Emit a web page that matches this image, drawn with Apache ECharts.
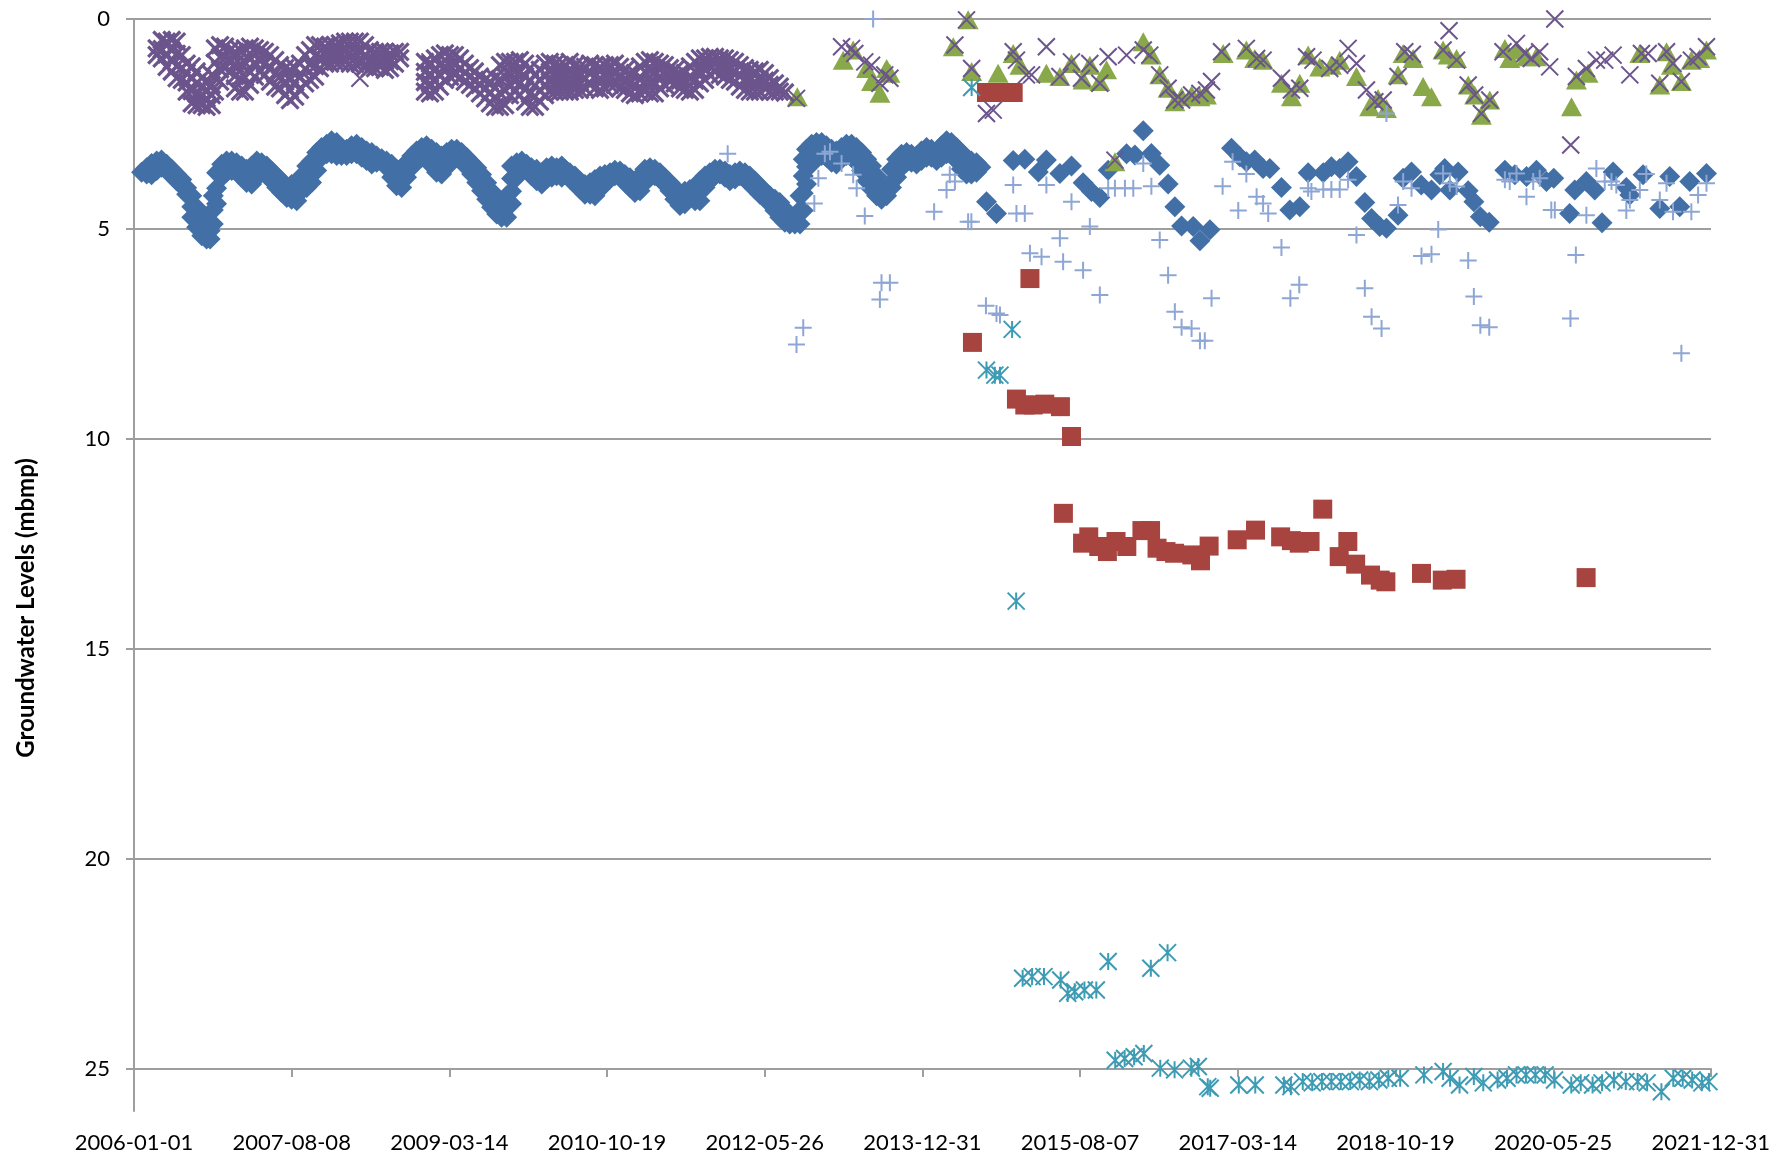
<!DOCTYPE html>
<html><head><meta charset="utf-8">
<script src="https://cdn.jsdelivr.net/npm/echarts@6/dist/echarts.min.js"></script>
<style>html,body{margin:0;padding:0;background:#fff}#c{width:1773px;height:1158px}</style>
</head><body><div id="c"></div>
<script>
// x values: days since 2006-01-01 ; y values: groundwater level (m below measuring point)
const axisStartDate = '2006-01-01';
const axisEndDay = 5843;          // 2021-12-31
const axisStepDays = 584.3;       // 10 equal steps
const yTickValues = [0, 5, 10, 15, 20, 25];
const yTitle = 'Groundwater Levels (mbmp)';

// blue diamonds, dense record: [day, readings seen at that date (band top .. bottom)]
const blueDense = [[28,3.65],[47,3.54,3.69],[65,3.44,3.71],[84,3.38,3.61],[102,3.36,3.53],[121,3.46,3.61],[140,3.58,3.73],[158,3.70,3.85],[177,3.82,3.97],[195,4.02,4.17],[214,4.21,4.47,4.72],[232,4.49,4.73,4.96],[251,4.69,4.93,5.16],[269,5.01,5.24],[282,4.85,5.04,5.24],[294,4.21,4.55,4.88],[306,3.66,4.03,4.40],[325,3.46,3.77],[343,3.38,3.65],[362,3.38,3.61],[380,3.42,3.65],[399,3.50,3.77],[417,3.58,3.89],[436,3.50,3.93],[455,3.38,3.77],[473,3.42,3.65],[492,3.50,3.73],[510,3.62,3.85],[529,3.74,4.01],[547,3.86,4.13],[566,3.98,4.25],[584,3.94,4.29],[603,3.90,4.33],[621,3.74,4.09],[640,3.50,3.76,4.01],[658,3.38,3.64,3.89],[677,3.18,3.61],[695,3.06,3.29],[714,2.98,3.21],[732,2.90,3.21],[751,2.94,3.25],[769,3.06,3.25],[788,3.10,3.25],[806,3.02,3.21],[825,2.98,3.21],[844,3.06,3.29],[862,3.14,3.37],[881,3.18,3.45],[899,3.26,3.41],[918,3.33],[936,3.38,3.53],[955,3.46,3.77],[973,3.58,3.97],[992,3.54,4.01],[1010,3.42,3.77],[1029,3.26,3.53],[1047,3.14,3.37],[1066,3.06,3.29],[1084,3.02,3.29],[1103,3.10,3.49],[1121,3.18,3.65],[1140,3.26,3.69],[1159,3.18,3.53],[1177,3.10,3.33],[1196,3.10,3.29],[1214,3.18,3.37],[1233,3.30,3.53],[1251,3.42,3.69],[1270,3.54,3.89],[1288,3.70,4.09],[1307,3.90,4.29],[1325,4.10,4.48],[1344,4.33,4.64],[1362,4.53,4.72],[1381,4.21,4.47,4.72],[1399,3.50,3.80,4.10,4.40],[1418,3.42,3.77],[1437,3.38,3.57],[1455,3.46,3.61],[1473,3.54,3.73],[1492,3.58,3.85],[1511,3.66,3.93],[1529,3.54,3.81],[1548,3.50,3.77],[1566,3.54,3.73],[1585,3.50,3.77],[1597,3.58,3.69],[1615,3.66,3.81],[1634,3.74,3.93],[1652,3.86,4.05],[1671,3.94,4.17],[1690,3.90,4.17],[1708,3.82,4.21],[1727,3.74,4.05],[1745,3.70,3.93],[1764,3.66,3.81],[1782,3.60,3.73],[1801,3.62,3.77],[1819,3.70,3.89],[1838,3.78,4.01],[1856,3.86,4.13],[1875,3.74,4.09],[1893,3.58,3.89],[1912,3.54,3.77],[1930,3.58,3.73],[1949,3.66,3.81],[1967,3.78,3.93],[1986,3.90,4.09],[2004,4.02,4.29],[2023,4.17,4.44],[2041,4.10,4.40],[2060,4.06,4.21],[2079,4.10,4.33],[2097,3.86,4.10,4.33],[2116,3.74,4.01],[2134,3.66,3.85],[2153,3.58,3.73],[2171,3.58,3.69],[2190,3.62,3.77],[2208,3.70,3.85],[2227,3.66,3.81],[2245,3.62,3.73],[2264,3.66,3.81],[2282,3.74,3.93],[2301,3.86,4.05],[2319,3.98,4.17],[2338,4.10,4.25],[2356,4.21,4.40],[2375,4.29,4.56],[2393,4.37,4.72],[2412,4.53,4.84],[2430,4.69,4.88],[2449,4.88],[2468,4.21,4.55,4.88],[2480,3.34,3.74,4.15,4.56],[2492,3.10,3.52,3.93],[2511,2.98,3.22,3.45],[2529,2.94,3.29],[2548,2.94,3.25],[2566,3.02,3.29],[2585,3.10,3.41],[2603,3.14,3.45],[2622,3.06,3.33],[2640,2.98,3.25],[2659,2.98,3.29],[2677,3.06,3.41],[2696,3.18,3.61],[2715,3.34,3.60,3.85],[2733,3.50,3.77,4.05],[2752,3.74,3.97,4.21],[2770,4.06,4.29],[2789,3.98,4.21],[2807,3.58,4.01],[2826,3.34,3.77],[2844,3.22,3.53],[2863,3.18,3.41],[2881,3.22,3.41],[2900,3.26,3.45],[2918,3.14,3.37],[2937,3.06,3.29],[2955,3.10,3.29],[2974,3.18,3.37],[2992,3.02,3.29],[3011,2.90,3.21],[3029,2.94,3.21],[3048,3.06,3.37],[3066,3.18,3.57],[3085,3.30,3.69],[3103,3.38,3.69],[3122,3.42,3.65],[3138,3.53]];
// blue diamonds, sparse record
const blueSparse = [[3159,4.35],[3196,4.63],[3258,3.37],[3301,3.34],[3351,3.64],[3381,3.36],[3431,3.68],[3474,3.50],[3517,3.90],[3548,4.11],[3579,4.25],[3610,3.60],[3678,3.21],[3709,3.24],[3740,2.66],[3770,3.20],[3801,3.48],[3832,3.93],[3857,4.47],[3882,4.93],[3925,4.94],[3950,5.28],[3987,5.02],[4067,3.08],[4098,3.28],[4122,3.40],[4153,3.36],[4184,3.56],[4209,3.56],[4252,4.01],[4283,4.55],[4320,4.47],[4351,3.66],[4407,3.66],[4437,3.52],[4468,3.56],[4499,3.40],[4530,3.75],[4561,4.37],[4586,4.75],[4616,4.94],[4641,4.98],[4684,4.67],[4703,3.79],[4734,3.64],[4770,3.95],[4808,4.07],[4839,3.71],[4857,3.56],[4876,4.07],[4907,3.64],[4944,4.09],[4965,4.35],[4989,4.71],[5022,4.84],[5080,3.60],[5117,3.71],[5160,3.75],[5197,3.60],[5234,3.87],[5261,3.79],[5320,4.63],[5339,4.07],[5382,3.87],[5413,4.07],[5440,4.85],[5481,3.64],[5530,4.01],[5543,4.19],[5592,3.71],[5654,4.51],[5691,3.75],[5728,4.47],[5765,3.87],[5827,3.68]];
// red squares
const redSquares = [[3107,7.70],[3159,1.75],[3196,1.75],[3233,1.75],[3258,1.75],[3270,9.05],[3301,9.19],[3320,6.18],[3332,9.19],[3375,9.17],[3433,9.23],[3474,9.94],[3444,11.77],[3515,12.48],[3538,12.33],[3575,12.56],[3607,12.68],[3639,12.44],[3679,12.56],[3735,12.18],[3767,12.18],[3791,12.60],[3824,12.68],[3856,12.72],[3920,12.76],[3952,12.90],[3984,12.55],[4088,12.40],[4156,12.17],[4249,12.33],[4289,12.42],[4318,12.48],[4358,12.44],[4405,11.67],[4466,12.80],[4498,12.44],[4527,12.98],[4582,13.24],[4618,13.36],[4639,13.40],[4771,13.20],[4848,13.36],[4899,13.34],[5381,13.30]];
// green triangles
const greenTriangles = [[2458,1.85],[2628,0.98],[2665,0.74],[2715,1.18],[2733,1.49],[2764,1.77],[2789,1.18],[2801,1.29],[3036,0.66],[3091,0.02],[3104,1.25],[3202,1.29],[3258,0.82],[3283,1.10],[3381,1.29],[3431,1.37],[3474,1.06],[3517,1.45],[3542,1.10],[3579,1.49],[3604,1.21],[3635,3.40],[3740,0.54],[3770,0.86],[3801,1.33],[3832,1.65],[3857,1.97],[3882,1.85],[3919,1.81],[3950,1.85],[3974,1.81],[4036,0.82],[4122,0.74],[4153,0.94],[4184,0.98],[4252,1.53],[4289,1.85],[4320,1.53],[4351,0.86],[4394,1.14],[4437,1.10],[4468,0.98],[4530,1.37],[4579,2.09],[4610,1.89],[4641,2.13],[4684,1.33],[4703,0.82],[4740,0.94],[4777,1.61],[4808,1.85],[4851,0.74],[4870,0.86],[4901,0.94],[4944,1.57],[4968,1.81],[4993,2.29],[5024,1.93],[5080,0.70],[5098,0.94],[5123,0.74],[5160,0.90],[5197,0.90],[5327,2.09],[5345,1.45],[5388,1.29],[5580,0.82],[5654,1.57],[5679,0.78],[5697,1.10],[5734,1.49],[5771,0.98],[5802,0.94],[5827,0.74]];
// purple crosses, dense record: [day, readings seen at that date (band top .. bottom)]
const purpleDense = [[84,0.70,0.86],[103,0.50,0.72,0.94],[121,0.54,0.84,1.14],[140,0.50,0.75,1.00,1.25],[158,0.54,0.83,1.12,1.41],[177,0.86,1.16,1.45],[195,1.06,1.28,1.51,1.73],[214,1.13,1.42,1.72,2.01],[232,1.25,1.52,1.78,2.05],[251,1.41,1.62,1.84,2.05],[269,1.49,1.69,1.89,2.09],[288,1.33,1.57,1.81,2.05],[300,0.70,1.04,1.39,1.73],[319,0.62,0.91,1.20,1.49],[337,0.66,0.92,1.17],[356,0.74,1.00,1.25],[374,0.78,1.07,1.36,1.65],[393,0.74,1.07,1.40,1.73],[411,0.70,1.04,1.39,1.73],[430,0.66,0.96,1.27,1.57],[448,0.70,1.04,1.37],[467,0.74,1.00,1.25],[485,0.78,1.06,1.33],[504,0.86,1.17,1.49],[523,0.98,1.30,1.61],[541,1.10,1.37,1.65],[560,1.17,1.49,1.81],[578,1.21,1.45,1.69,1.93],[597,1.17,1.51,1.85],[615,1.06,1.37,1.69],[634,0.86,1.19,1.53],[652,0.74,1.09,1.45],[671,0.62,0.87,1.12,1.37],[689,0.62,0.90,1.17],[708,0.66,0.86,1.06],[726,0.62,0.84,1.06],[745,0.62,0.82,1.02],[763,0.58,0.80,1.02],[782,0.54,0.78,1.02],[800,0.54,0.80,1.06],[819,0.54,0.80,1.06],[837,0.54,0.80,1.06],[856,0.62,0.88,1.14],[874,0.74,0.96,1.17],[893,0.78,0.98,1.17],[912,0.78,0.96,1.14],[930,0.78,1.00,1.21],[949,0.82,1.00,1.17],[967,0.78,1.06],[986,0.78,0.94],[1078,1.02,1.26,1.50,1.73],[1097,1.06,1.30,1.53,1.77],[1115,0.94,1.20,1.47,1.73],[1134,0.86,1.11,1.36,1.61],[1152,0.82,1.13,1.45],[1171,0.86,1.11,1.37],[1189,0.86,1.10,1.33],[1208,0.94,1.17,1.41],[1226,1.06,1.27,1.49],[1245,1.17,1.37,1.57],[1263,1.25,1.45,1.65],[1282,1.37,1.57,1.77],[1301,1.45,1.67,1.89],[1319,1.49,1.75,2.01],[1338,1.41,1.64,1.86,2.09],[1356,1.10,1.43,1.76,2.09],[1375,1.02,1.36,1.71,2.05],[1393,1.02,1.28,1.55,1.81],[1412,1.02,1.26,1.49,1.73],[1430,0.98,1.26,1.53,1.81],[1449,1.06,1.36,1.67,1.97],[1467,1.17,1.48,1.78,2.09],[1486,1.33,1.58,1.84,2.09],[1504,1.21,1.46,1.72,1.97],[1523,1.06,1.31,1.56,1.81],[1541,1.02,1.26,1.49,1.73],[1560,1.06,1.28,1.51,1.73],[1578,1.10,1.31,1.52,1.73],[1597,1.10,1.31,1.52,1.73],[1615,1.02,1.26,1.49,1.73],[1634,1.10,1.30,1.49,1.69],[1652,1.14,1.32,1.51,1.69],[1671,1.14,1.40,1.65],[1690,1.06,1.31,1.57],[1708,1.10,1.37,1.65],[1727,1.14,1.41,1.69],[1745,1.10,1.37,1.65],[1764,1.10,1.33,1.57],[1782,1.06,1.31,1.57],[1801,1.14,1.40,1.65],[1819,1.21,1.45,1.69],[1838,1.29,1.53,1.77],[1856,1.29,1.55,1.81],[1875,1.13,1.45,1.77],[1893,1.02,1.26,1.49,1.73],[1912,0.98,1.24,1.51,1.77],[1930,1.02,1.27,1.52,1.77],[1949,1.06,1.36,1.65],[1967,1.10,1.33,1.57],[1986,1.17,1.33,1.49],[2004,1.21,1.37,1.53],[2023,1.29,1.47,1.65],[2041,1.29,1.49,1.69],[2060,1.13,1.43,1.73],[2079,1.02,1.24,1.47,1.69],[2097,0.94,1.24,1.53],[2116,0.94,1.19,1.45],[2134,0.90,1.12,1.33],[2153,0.90,1.08,1.25],[2171,0.94,1.13,1.33],[2190,0.94,1.16,1.37],[2208,0.98,1.21,1.45],[2227,1.02,1.25,1.49],[2245,1.10,1.36,1.61],[2264,1.17,1.43,1.69],[2282,1.21,1.47,1.73],[2301,1.25,1.49,1.73],[2319,1.21,1.47,1.73],[2338,1.29,1.47,1.65],[2356,1.41,1.57,1.73],[2375,1.53,1.73],[2393,1.61,1.73],[2412,1.75]];
// purple crosses, sparse record
const purpleSparse = [[837,1.41],[1097,1.02],[2455,1.89],[2622,0.66],[2659,0.70],[2671,0.82],[2708,1.02],[2733,1.10],[2764,1.53],[2782,1.33],[2801,1.41],[3042,0.62],[3085,0.02],[3104,1.18],[3159,2.25],[3184,2.17],[3258,0.78],[3270,0.98],[3307,1.33],[3326,1.33],[3381,0.66],[3431,1.37],[3474,1.02],[3511,1.41],[3542,1.06],[3579,1.53],[3610,0.90],[3635,3.36],[3678,0.86],[3740,0.74],[3764,0.86],[3801,1.33],[3832,1.65],[3857,1.93],[3882,1.93],[3919,1.81],[3950,1.77],[3974,1.69],[3993,1.49],[4030,0.78],[4122,0.70],[4160,0.94],[4184,0.98],[4252,1.41],[4289,1.69],[4320,1.65],[4345,0.90],[4369,0.98],[4431,1.18],[4468,1.10],[4499,0.70],[4530,1.06],[4567,1.69],[4598,1.97],[4629,1.93],[4684,1.37],[4709,0.78],[4737,0.84],[4851,0.74],[4873,0.28],[4901,0.98],[4944,1.57],[4968,1.81],[4993,2.25],[5024,1.93],[5073,0.78],[5123,0.58],[5154,0.82],[5178,0.94],[5209,0.78],[5246,1.14],[5265,0.00],[5324,3.00],[5345,1.37],[5382,1.18],[5419,0.98],[5450,0.98],[5481,0.86],[5543,1.33],[5586,0.82],[5611,0.82],[5654,1.53],[5679,0.78],[5703,1.06],[5734,1.49],[5771,0.98],[5796,0.90],[5827,0.66]];
// teal asterisks
const tealStars = [[3104,1.63],[3159,8.36],[3190,8.48],[3209,8.48],[3254,7.39],[3269,13.86],[3293,22.84],[3328,22.80],[3372,22.80],[3434,22.88],[3460,23.20],[3486,23.16],[3522,23.12],[3566,23.12],[3610,22.44],[3768,22.60],[3830,22.23],[3636,24.79],[3671,24.75],[3706,24.71],[3742,24.63],[3803,24.98],[3856,25.02],[3918,24.98],[3944,24.94],[3979,25.42],[3988,25.46],[4094,25.38],[4155,25.38],[4261,25.38],[4287,25.42],[4331,25.30],[4366,25.33],[4402,25.30],[4437,25.30],[4472,25.30],[4507,25.30],[4542,25.26],[4578,25.30],[4613,25.26],[4648,25.22],[4692,25.22],[4780,25.14],[4851,25.06],[4877,25.22],[4912,25.38],[4965,25.18],[5000,25.33],[5053,25.26],[5088,25.22],[5123,25.14],[5158,25.14],[5193,25.14],[5229,25.14],[5264,25.26],[5326,25.38],[5361,25.33],[5405,25.38],[5440,25.33],[5484,25.26],[5528,25.30],[5572,25.30],[5607,25.33],[5660,25.54],[5704,25.22],[5739,25.22],[5774,25.26],[5810,25.33],[5836,25.30]];
// light-blue plus signs
const lightBluePlus = [[2200,3.21],[2739,0.00],[2579,3.16],[2560,3.21],[2622,3.44],[2665,3.71],[2536,3.79],[2678,4.03],[2521,4.39],[2708,4.69],[3023,3.71],[3042,3.87],[3011,4.07],[2965,4.59],[3091,4.83],[3103,4.83],[2480,7.35],[2455,7.75],[2770,6.28],[2801,6.28],[2764,6.68],[3157,6.83],[3196,7.01],[3209,7.05],[3258,3.95],[3270,4.63],[3301,4.63],[3320,5.58],[3363,5.66],[3381,3.95],[3431,5.22],[3443,5.78],[3474,4.35],[3517,5.98],[3542,4.94],[3579,6.57],[3610,4.03],[3635,4.03],[3672,4.03],[3703,4.03],[3740,3.44],[3770,3.98],[3801,5.26],[3832,6.10],[3857,6.97],[3882,7.34],[3919,7.37],[3950,7.66],[3968,7.66],[3993,6.65],[4034,3.98],[4071,3.40],[4092,4.56],[4122,3.69],[4160,4.23],[4184,4.39],[4203,4.63],[4252,5.44],[4285,6.65],[4318,6.33],[4351,4.03],[4363,4.11],[4407,4.06],[4437,4.06],[4468,4.06],[4499,3.83],[4530,5.14],[4561,6.41],[4586,7.09],[4623,7.37],[4641,2.25],[4684,4.43],[4703,3.87],[4734,4.03],[4771,5.64],[4808,5.60],[4833,5.01],[4851,3.68],[4876,3.91],[4901,3.99],[4944,5.75],[4965,6.61],[4989,7.29],[5022,7.34],[5080,3.83],[5098,3.87],[5123,3.68],[5160,4.23],[5185,3.87],[5209,3.79],[5252,4.55],[5265,4.55],[5323,7.13],[5343,5.62],[5382,4.67],[5419,3.56],[5450,3.87],[5475,3.87],[5493,3.95],[5530,4.56],[5543,4.31],[5580,4.07],[5604,3.69],[5654,4.31],[5679,3.91],[5703,4.59],[5734,7.96],[5771,4.59],[5796,4.19],[5827,3.91]];

function flatten(rows) {
  const out = [];
  rows.forEach(r => { for (let i = 1; i < r.length; i++) out.push([r[0], r[i]]); });
  return out;
}
const originMs = Date.parse(axisStartDate + 'T00:00:00Z');
function dayLabel(v) {
  const d = new Date(originMs + Math.floor(v + 0.001) * 86400000);
  return d.toISOString().slice(0, 10);
}

const FONT = 'Lato, "Open Sans", sans-serif';
const GRID_COLOR = '#9E9E9E';
const SYM_X = 'path://M0,0L10,10M10,0L0,10';
const SYM_PLUS = 'path://M5,0L5,10M0,5L10,5';
const SYM_STAR = 'path://M0,0L10,10M10,0L0,10M5,0L5,10';

const C_BLUE = '#4270A6', C_RED = '#A8443F', C_GREEN = '#89A84A', C_PURPLE = '#6C548C', C_TEAL = '#3D9BB4', C_LB = '#8EA6D4';

function filled(name, data, symbol, size, color) {
  return { type: 'scatter', name, data, symbol, symbolSize: size, xAxisIndex: 0, yAxisIndex: 0,
    itemStyle: { color, borderWidth: 0, opacity: 1 }, silent: true, animation: false };
}
function stroked(name, data, symbol, size, color, w) {
  return { type: 'scatter', name, data, symbol, symbolSize: size, xAxisIndex: 0, yAxisIndex: 0,
    itemStyle: { color, borderColor: color, borderWidth: w, opacity: 1 }, silent: true, animation: false };
}

const chart = echarts.init(document.getElementById('c'), null, { renderer: 'canvas' });
chart.setOption({
  backgroundColor: '#ffffff',
  animation: false,
  grid: [
    { left: 134, right: 62, top: 19, bottom: 47 },
    { left: 134, right: 62, top: 19, bottom: 89 }
  ],
  xAxis: [
    { gridIndex: 0, type: 'value', min: 0, max: axisEndDay, interval: axisStepDays,
      axisLine: { show: false, onZero: false }, axisTick: { show: false }, splitLine: { show: false },
      axisLabel: { margin: 21, fontSize: 22, color: '#000', fontFamily: FONT, formatter: dayLabel, showMinLabel: true, showMaxLabel: true } },
    { gridIndex: 1, type: 'value', min: 0, max: axisEndDay, interval: axisStepDays,
      axisLine: { show: true, onZero: false, lineStyle: { color: GRID_COLOR, width: 2 } },
      axisTick: { show: true, length: 8, lineStyle: { color: GRID_COLOR, width: 2 } },
      axisLabel: { show: false }, splitLine: { show: false } }
  ],
  yAxis: [
    { gridIndex: 0, type: 'value', inverse: true, min: 0, max: 26,
      axisLine: { show: true, onZero: false, lineStyle: { color: GRID_COLOR, width: 2 } },
      axisTick: { show: false }, axisLabel: { show: false }, splitLine: { show: false } },
    { gridIndex: 1, type: 'value', inverse: true, min: yTickValues[0], max: yTickValues[yTickValues.length - 1], interval: 5,
      axisLine: { show: true, onZero: false, lineStyle: { color: GRID_COLOR, width: 2 } },
      axisTick: { show: true, length: 8, lineStyle: { color: GRID_COLOR, width: 2 } },
      axisLabel: { margin: 24, fontSize: 22, color: '#000', fontFamily: FONT },
      splitLine: { show: true, lineStyle: { color: GRID_COLOR, width: 2 } } }
  ],
  graphic: [{
    type: 'text', x: 26, y: 608, rotation: Math.PI / 2,
    style: { text: yTitle, font: 'bold 24px ' + FONT, fill: '#000', textAlign: 'center', textVerticalAlign: 'middle' }
  }],
  series: [
    filled('blue', flatten(blueDense).concat(blueSparse), 'diamond', 21, C_BLUE),
    filled('red', redSquares, 'rect', 19, C_RED),
    filled('green', greenTriangles, 'triangle', [21, 19], C_GREEN),
    stroked('purple', flatten(purpleDense), SYM_X, 17, C_PURPLE, 3.2),
    stroked('purple', purpleSparse, SYM_X, 17, C_PURPLE, 2),
    stroked('teal', tealStars, SYM_STAR, 17, C_TEAL, 2),
    stroked('lightblue', lightBluePlus, SYM_PLUS, 17, C_LB, 2)
  ]
});
</script>
</body></html>
